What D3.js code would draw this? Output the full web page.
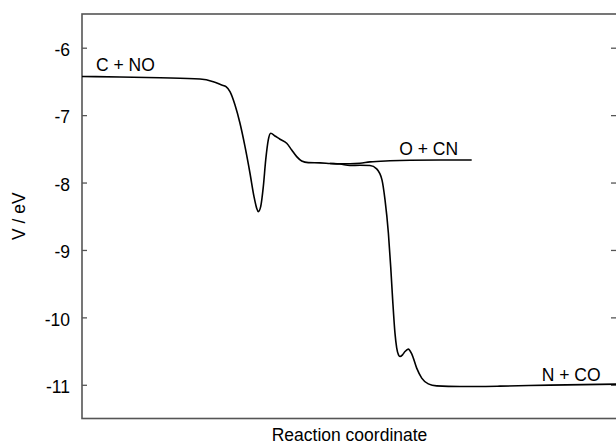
<!DOCTYPE html>
<html>
<head>
<meta charset="utf-8">
<script src="https://cdn.jsdelivr.net/npm/d3@7"></script>
<style>
  body { margin: 0; background: #fff; }
  svg { display: block; font-family: "Liberation Sans", Arial, Helvetica, sans-serif; }
</style>
</head>
<body>
<svg></svg>
<script>
// reaction coordinate (arbitrary units) and potential V / eV, C + NO -> N + CO path
let mainX = [0, 7.10, 14.58, 22.06, 24.54, 26.11, 26.92, 27.66, 28.60, 29.53, 30.47, 31.40,
    32.15, 32.65, 32.95, 33.40, 33.89, 34.34, 34.82, 35.27, 36.07, 37.01, 38.26, 39.20,
    40.13, 41.06, 42.30, 44.49, 46.36, 48.22, 50.09, 51.96, 53.83, 55.08, 56.07, 56.64,
    57.27, 57.70, 58.07, 58.50, 58.82, 59.16, 59.44, 59.91, 60.37, 60.99, 61.63, 62.56,
    63.50, 64.73, 66.30, 70.65, 78.13, 87.48, 100];
let mainV = [-6.427, -6.434, -6.446, -6.464, -6.504, -6.553, -6.578, -6.652, -6.850, -7.121,
    -7.468, -7.862, -8.209, -8.381, -8.431, -8.357, -8.061, -7.665, -7.368, -7.269, -7.309,
    -7.358, -7.417, -7.517, -7.616, -7.680, -7.705, -7.709, -7.717, -7.724, -7.747, -7.744,
    -7.747, -7.798, -7.961, -8.258, -8.752, -9.247, -9.741, -10.234, -10.452, -10.556,
    -10.581, -10.556, -10.507, -10.471, -10.541, -10.753, -10.901, -10.986, -11.016,
    -11.026, -11.020, -11.005, -10.990];

// branch towards O + CN
let branchX = [46.36, 48.22, 50.09, 51.96, 53.83, 57.57, 61.31, 66.92, 72.84];
let branchV = [-7.717, -7.721, -7.721, -7.714, -7.693, -7.677, -7.669, -7.666, -7.665];

// channel labels and where they sit (data units)
let labelText = ["C + NO", "O + CN", "N + CO"];
let labelX = [2.62, 59.31, 85.93];
let labelV = [-6.345, -7.591, -10.949];

let yTicks = [-6, -7, -8, -9, -10, -11];

let width = 616;
let height = 444;
let fs = "17.5px";

let svg = d3.select("svg")
    .attr("width", width)
    .attr("height", height);

let x0 = 82, x1 = 617, y0 = 14, y1 = 418.5;

let scaleX = d3.scaleLinear()
    .domain([0, 100])
    .range([x0, x1]);

let scaleY = d3.scaleLinear()
    .domain([-11.5, -5.5])
    .range([y1, y0]);

let axisCol = "#555";

// left axis, ticks pointing inward
let axisL = d3.axisLeft(scaleY).tickValues(yTicks).tickSize(-5).tickPadding(12)
    .tickFormat(d => String(d));
let gL = svg.append("g")
    .attr("transform", `translate(${x0}, 0)`)
    .call(axisL);
gL.select(".domain").remove();
gL.selectAll(".tick line").attr("stroke", axisCol).attr("stroke-width", 1.3);
gL.selectAll(".tick text")
    .attr("fill", "#000")
    .style("font-size", fs)
    .attr("dy", "0.44em");

// right axis ticks only
let axisR = d3.axisRight(scaleY).tickValues(yTicks).tickSize(-5).tickFormat("");
let gR = svg.append("g")
    .attr("transform", `translate(${x1 - 1}, 0)`)
    .call(axisR);
gR.select(".domain").remove();
gR.selectAll(".tick line").attr("stroke", axisCol).attr("stroke-width", 1.3);

// frame
svg.append("rect")
    .attr("x", x0)
    .attr("y", y0)
    .attr("width", x1 - x0)
    .attr("height", y1 - y0)
    .attr("fill", "none")
    .attr("stroke", axisCol)
    .attr("stroke-width", 1.6);

let line = d3.line()
    .x(d => scaleX(d[0]))
    .y(d => scaleY(d[1]))
    .curve(d3.curveMonotoneX);

svg.append("path")
    .datum(d3.zip(branchX, branchV))
    .attr("d", line)
    .attr("fill", "none")
    .attr("stroke", "#000")
    .attr("stroke-width", 1.6);

svg.append("path")
    .datum(d3.zip(mainX, mainV))
    .attr("d", line)
    .attr("fill", "none")
    .attr("stroke", "#000")
    .attr("stroke-width", 1.6);

svg.selectAll(".lab")
    .data(labelText)
    .enter()
    .append("text")
    .attr("x", (d, i) => scaleX(labelX[i]))
    .attr("y", (d, i) => scaleY(labelV[i]))
    .style("font-size", fs)
    .text(d => d);

// axis titles
svg.append("text")
    .attr("x", (x0 + x1) / 2)
    .attr("y", 440.5)
    .attr("text-anchor", "middle")
    .style("font-size", fs)
    .text("Reaction coordinate");

svg.append("text")
    .attr("transform", `translate(24.5, ${(y0 + y1) / 2}) rotate(-90)`)
    .attr("text-anchor", "middle")
    .style("font-size", fs)
    .text("V / eV");
</script>
</body>
</html>
